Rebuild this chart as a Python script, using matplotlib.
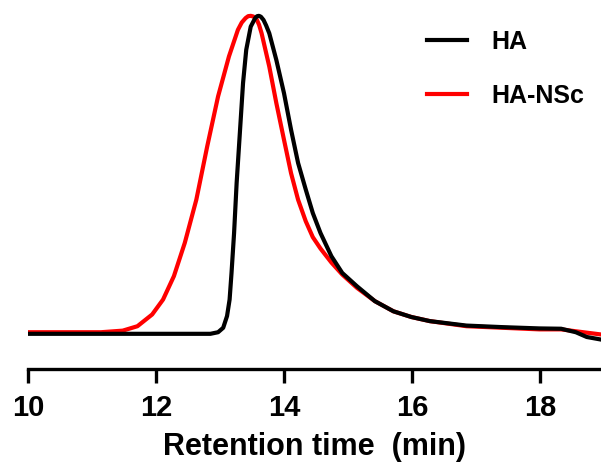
import matplotlib
matplotlib.use("Agg")
import matplotlib.pyplot as plt

# GPC traces, normalised to peak height
ha_time = [10.0, 11.71, 12.85, 12.97, 13.05, 13.11, 13.15, 13.18, 13.22, 13.26,
           13.31, 13.36, 13.41, 13.48, 13.55, 13.58, 13.61, 13.64, 13.68, 13.72,
           13.77, 13.88, 14.00, 14.11, 14.22, 14.34, 14.45, 14.57, 14.74, 14.91,
           15.14, 15.42, 15.71, 15.99, 16.28, 16.85, 17.42, 17.99, 18.33, 18.56,
           18.73, 18.95]
ha_signal = [-0.003, -0.003, -0.003, 0.002, 0.016, 0.053, 0.105, 0.189, 0.315, 0.473,
             0.630, 0.788, 0.893, 0.966, 0.993, 0.999, 1.0, 0.997, 0.987, 0.970,
             0.945, 0.861, 0.756, 0.641, 0.536, 0.452, 0.378, 0.315, 0.242, 0.189,
             0.147, 0.100, 0.068, 0.050, 0.037, 0.023, 0.018, 0.014, 0.013, 0.002,
             -0.013, -0.021]

nsc_time = [10.0, 11.14, 11.48, 11.71, 11.94, 12.11, 12.28, 12.45, 12.63, 12.80,
            12.97, 13.14, 13.28, 13.34, 13.40, 13.44, 13.48, 13.52, 13.57, 13.61,
            13.65, 13.77, 13.88, 14.00, 14.11, 14.22, 14.34, 14.45, 14.57, 14.74,
            14.91, 15.14, 15.42, 15.71, 15.99, 16.28, 16.85, 17.42, 17.99, 18.33,
            18.56, 18.95]
nsc_signal = [0.002, 0.002, 0.007, 0.021, 0.058, 0.105, 0.179, 0.284, 0.420, 0.588,
              0.746, 0.872, 0.956, 0.979, 0.993, 0.999, 1.0, 0.998, 0.990, 0.972,
              0.945, 0.840, 0.725, 0.609, 0.504, 0.420, 0.352, 0.302, 0.266, 0.222,
              0.184, 0.142, 0.100, 0.068, 0.050, 0.037, 0.021, 0.016, 0.011, 0.011,
              0.005, -0.005]

x_ticks = [10, 12, 14, 16, 18]

plt.rcParams['font.family'] = ['Liberation Sans', 'DejaVu Sans']
plt.rcParams['font.weight'] = 'bold'

fig = plt.figure(figsize=(6.01, 4.74), dpi=100)
ax = fig.add_axes([28 / 601, 105 / 474, 573 / 601, 369 / 474])

ax.plot(ha_time, ha_signal, color='black', lw=3.0, label='HA',
        solid_joinstyle='round', zorder=3)
ax.plot(nsc_time, nsc_signal, color='#ff0000', lw=3.0, label='HA-NSc',
        solid_joinstyle='round', zorder=2)

ax.set_xlim(10, 10 + 573 / 64)
ax.set_ylim(-0.114, 1.05)

for side in ['top', 'right', 'left']:
    ax.spines[side].set_visible(False)
ax.spines['bottom'].set_linewidth(2.4)
ax.set_yticks([])
ax.set_xticks(x_ticks)
ax.set_xticklabels([str(t) for t in x_ticks])
ax.tick_params(axis='x', direction='out', length=10, width=2.4, pad=8,
               labelsize=21)
for lbl in ax.get_xticklabels():
    lbl.set_fontweight('bold')

ax.set_xlabel('Retention time  (min)', fontsize=22, fontweight='bold', labelpad=7)

leg = ax.legend(loc='upper left', bbox_to_anchor=(0.696, 0.92), frameon=False,
                borderaxespad=0, borderpad=0,
                handlelength=1.6, handletextpad=1.0, labelspacing=1.2,
                prop={'size': 18, 'weight': 'bold'})

fig.savefig('out.png', dpi=100)
